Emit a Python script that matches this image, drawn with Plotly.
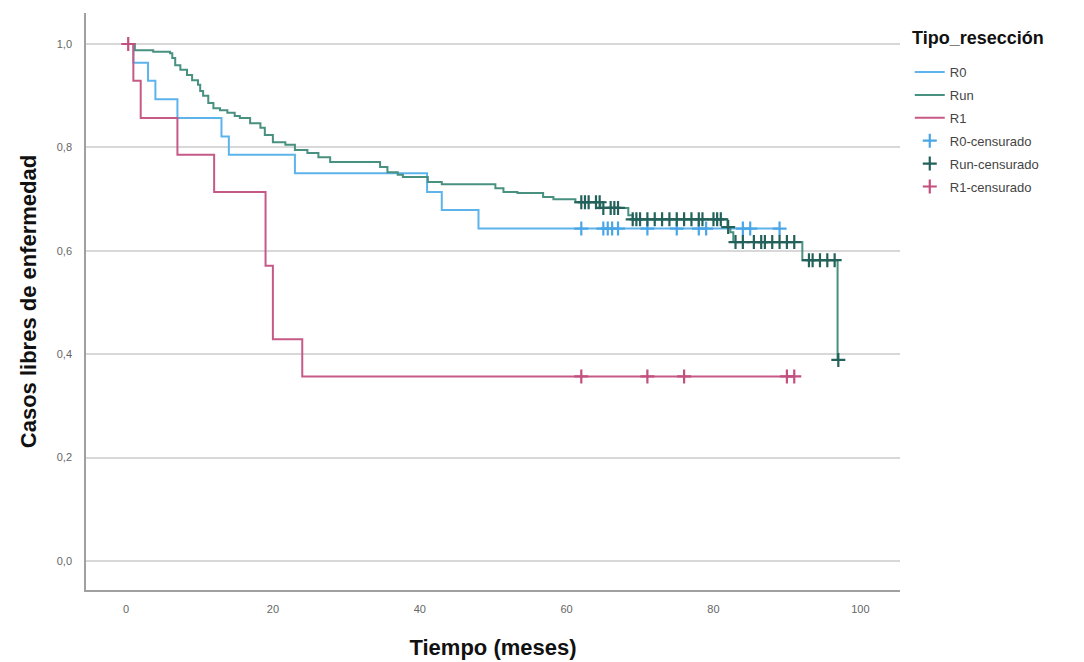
import numpy as np
import plotly.graph_objects as go

# ---- data ----
groups = ["R0", "Run", "R1"]

r0_t = [0, 1, 3, 4, 7, 13, 14, 23, 41, 43, 48, 89]
r0_s = [1.0, 0.964, 0.929, 0.893, 0.857, 0.821, 0.786, 0.75, 0.714, 0.679, 0.643, 0.643]
r0_cens = [62, 65, 65.6, 66.2, 67, 71, 75, 78, 79, 84, 85, 89]

run_t = [0, 1.2, 3.7, 6.0, 6.3, 6.7, 7.4, 8.3, 9.0, 9.8, 10.1, 10.5, 11.2, 11.9, 12.8, 13.8,
         14.8, 15.5, 16.9, 18.3, 18.9, 20.0, 21.7, 23.0, 24.7, 26.2, 27.8, 34.6, 35.6, 37.0,
         37.7, 41.1, 43.0, 50.3, 51.4, 53.3, 56.8, 58.2, 61.2, 64.6, 68.4, 69.0, 81.9, 82.3,
         82.7, 92.1, 96.9]
run_s = [1.0, 0.988, 0.985, 0.982, 0.973, 0.959, 0.95, 0.94, 0.93, 0.921, 0.909, 0.9, 0.886,
         0.876, 0.872, 0.867, 0.861, 0.857, 0.847, 0.838, 0.824, 0.81, 0.805, 0.795, 0.789,
         0.781, 0.772, 0.762, 0.752, 0.747, 0.743, 0.733, 0.729, 0.721, 0.714, 0.712, 0.704,
         0.7, 0.694, 0.683, 0.669, 0.661, 0.646, 0.636, 0.617, 0.582, 0.389]
run_cens = [62, 62.5, 63, 64, 64.5, 65, 66, 66.5, 67, 69, 69.5, 70, 71, 72, 73, 74, 75, 76,
            77, 78, 78.5, 80, 80.5, 81, 82, 83, 84, 85.5, 86.5, 87, 88, 89, 90, 91, 93, 93.5,
            94.5, 95.5, 96.5, 97]

r1_t = [0, 1, 2, 7, 12, 19, 20, 24, 91]
r1_s = [1.0, 0.929, 0.857, 0.786, 0.714, 0.571, 0.429, 0.357, 0.357]
r1_cens = [0.3, 62, 71, 76, 90, 91]

y_ticks = [0.0, 0.2, 0.4, 0.6, 0.8, 1.0]
y_ticktext = ["0,0", "0,2", "0,4", "0,6", "0,8", "1,0"]
x_ticks = [0, 20, 40, 60, 80, 100]
legend_title = "Tipo_resección"

line_colors = {"R0": "#5db4ec", "Run": "#48907f", "R1": "#c65a87"}
mark_colors = {"R0": "#4aa6e6", "Run": "#23615a", "R1": "#c24f7f"}


def step_value(times, surv, t):
    idx = np.searchsorted(np.array(times), t, side="right") - 1
    return np.array(surv)[idx]


series = {"R0": (r0_t, r0_s, r0_cens), "Run": (run_t, run_s, run_cens), "R1": (r1_t, r1_s, r1_cens)}

fig = go.Figure()
for g in groups:
    t, s, _ = series[g]
    fig.add_trace(go.Scatter(x=t, y=s, mode="lines", line_shape="hv", name=g,
                             legendgroup=g,
                             line=dict(color=line_colors[g], width=2)))
for g in groups:
    t, s, c = series[g]
    cy = [step_value(t, s, ct) for ct in c]
    fig.add_trace(go.Scatter(x=c, y=cy, mode="markers", name=g + "-censurado",
                             legendgroup=g + "c",
                             marker=dict(symbol="cross-thin", size=10, color=mark_colors[g],
                                         line=dict(color=mark_colors[g], width=2.2))))

fig.add_annotation(text="<b>" + legend_title + "</b>", xref="paper", yref="paper",
                   x=1.0122, y=0.9567, xanchor="left", yanchor="middle", showarrow=False,
                   font=dict(size=18, color="#111"))

fig.update_layout(
    width=1076, height=654,
    paper_bgcolor="white", plot_bgcolor="white",
    margin=dict(l=78, r=184, t=5, b=72),
    font=dict(family="Liberation Sans, Arial, sans-serif", color="#222"),
    showlegend=True,
    legend=dict(x=1.012, xanchor="left", y=0.9237, yanchor="top",
                font=dict(size=13, color="#444"), itemwidth=30, tracegroupgap=3,
                bgcolor="rgba(0,0,0,0)"),
    xaxis=dict(range=[-5.45, 105.4], tickvals=x_ticks, showgrid=False, zeroline=False,
               showline=True, linecolor="#a0a0a0", linewidth=1.5, automargin=False,
               ticks="outside", ticklen=8, tickcolor="rgba(0,0,0,0)",
               tickfont=dict(size=11, color="#666"),
               title=dict(text="<b>Tiempo (meses)</b>", font=dict(size=22, color="#111"), standoff=26)),
    yaxis=dict(range=[-0.056, 1.06], tickvals=y_ticks, ticktext=y_ticktext,
               showgrid=True, gridcolor="#d8d8d8", gridwidth=2, zeroline=False,
               showline=True, linecolor="#a0a0a0", linewidth=1.5, automargin=False,
               ticks="outside", ticklen=10, tickcolor="rgba(0,0,0,0)",
               tickfont=dict(size=11, color="#666"),
               title=dict(text="<b>Casos libres de enfermedad</b>", font=dict(size=22, color="#111"), standoff=14)),
)

fig.write_html("out.html")
